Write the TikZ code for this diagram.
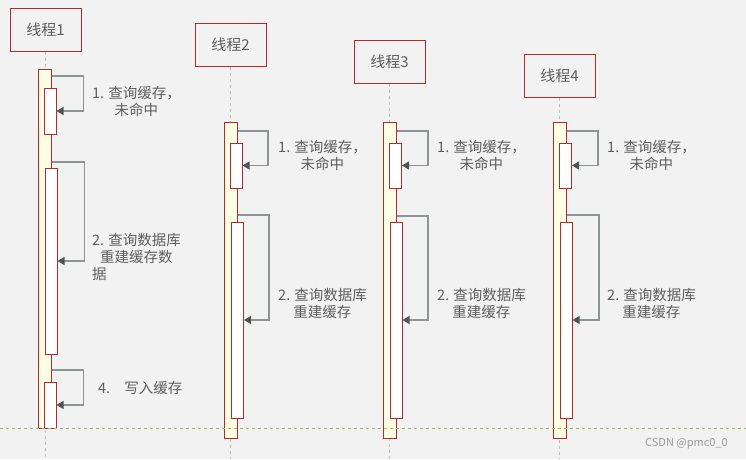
\documentclass[tikz,border=0pt]{standalone}
\usepackage{fontspec}
\setmainfont{Noto Sans CJK SC}
\usetikzlibrary{arrows.meta}

\definecolor{bg}{HTML}{F2F2F2}
\definecolor{boxred}{HTML}{B8292B}
\definecolor{baryellow}{HTML}{FFFFE6}
\definecolor{txt}{HTML}{5E5E5E}
\definecolor{lifegray}{HTML}{BDBDBD}
\definecolor{callgray}{HTML}{8E9393}
\definecolor{headgray}{HTML}{4E5456}
\definecolor{splitgreen}{HTML}{9BBB59}

\begin{document}
\begin{tikzpicture}[x=1pt,y=-1pt]
  \tikzstyle{thread} = [draw=boxred, fill=bg, line width=1pt, minimum width=71pt, minimum height=43pt, inner sep=0pt, text=txt, font=\fontsize{15}{18}\selectfont]
  \tikzstyle{life} = [draw=lifegray, dashed, line width=0.8pt]
  \tikzstyle{bar} = [draw=boxred, fill=baryellow, line width=1pt, minimum width=13pt, inner sep=0pt]
  \tikzstyle{act} = [draw=boxred, fill=white, line width=1pt, minimum width=12pt, inner sep=0pt]
  \tikzstyle{call} = [draw=callgray, line width=1.3pt, -{Triangle[length=7pt,width=8pt,color=headgray]}]
  \tikzstyle{note} = [anchor=west, inner sep=0pt, align=center, text=txt, font=\fontsize{14.5}{17}\selectfont]

  \fill[bg] (0,0) rectangle (746,459);
  \useasboundingbox (0,0) rectangle (746,459);

  \node[thread] (h1) at (45.5,29.5) {线程1};
  \node[thread] (h2) at (230.5,44.5) {线程2};
  \node[thread] (h3) at (389.5,61.5) {线程3};
  \node[thread] (h4) at (559.5,75.5) {线程4};

  \draw[life] (h1.south) -- (h1.south |- 0,459);
  \draw[life] (h2.south) -- (h2.south |- 0,459);
  \draw[life] (h3.south) -- (h3.south |- 0,459);
  \draw[life] (h4.south) -- (h4.south |- 0,459);

  % thread 1
  \node[bar, minimum height=359pt] (o1) at (44.5,248.5) {};
  \node[act, minimum height=46pt] (a11) at (50,111) {};
  \node[act, minimum height=186pt] (a12) at (51,261) {};
  \node[act, minimum height=46pt] (a13) at (50,405) {};

  % thread 2
  \node[bar, minimum height=316pt] (o2) at (231,280) {};
  \node[act, minimum height=45pt] (a21) at (236,165.5) {};
  \node[act, minimum height=196pt] (a22) at (237.5,320) {};

  % thread 3
  \node[bar, minimum height=316pt] (o3) at (390,280) {};
  \node[act, minimum height=45pt] (a31) at (395.5,165.5) {};
  \node[act, minimum height=196pt] (a32) at (396,320) {};

  % thread 4
  \node[bar, minimum height=316pt] (o4) at (560,280) {};
  \node[act, minimum height=45pt] (a41) at (565.5,165.5) {};
  \node[act, minimum height=196pt] (a42) at (566,320) {};

  \draw[call] (o1.east |- 0,76) -- ++(32,0) |- (a11.east);
  \draw[call] (o1.east |- 0,162) -- ++(33,0) |- (a12.east);
  \draw[call] (o1.east |- 0,370) -- ++(32,0) |- (a13.east);
  \draw[call] (o2.east |- 0,131) -- ++(30,0) |- (a21.east);
  \draw[call] (o2.east |- 0,215) -- ++(31,0) |- (a22.east);
  \draw[call] (o3.east |- 0,131) -- ++(31,0) |- (a31.east);
  \draw[call] (o3.east |- 0,216) -- ++(31,0) |- (a32.east);
  \draw[call] (o4.east |- 0,131) -- ++(31,0) |- (a41.east);
  \draw[call] (o4.east |- 0,215) -- ++(32,0) |- (a42.east);

  \node[note] (n11) at (92,101.5) {1.\hspace{4pt}查询缓存，\\未命中};
  \node[note, align=left] (n12) at (92,257) {2.\hspace{4pt}查询数据库\\\hspace{8pt}重建缓存数\\据};
  \node[note] (n13) at (98,388) {4.\hspace{14pt}写入缓存};
  \node[note] (n21) at (278,155.5) {1.\hspace{4pt}查询缓存，\\未命中};
  \node[note] (n22) at (278,303.5) {2.\hspace{4pt}查询数据库\\重建缓存};
  \node[note] (n31) at (437,155.5) {1.\hspace{4pt}查询缓存，\\未命中};
  \node[note] (n32) at (437,303.5) {2.\hspace{4pt}查询数据库\\重建缓存};
  \node[note] (n41) at (607,155.5) {1.\hspace{4pt}查询缓存，\\未命中};
  \node[note] (n42) at (607,303.5) {2.\hspace{4pt}查询数据库\\重建缓存};

  \draw[splitgreen, dashed, line width=0.8pt] (0,428) -- (746,428);

  \node[anchor=west, inner sep=0pt, text=gray!80, font=\fontsize{11}{13}\selectfont] (mark) at (645,444) {CSDN @pmc0\_0};
\end{tikzpicture}
\end{document}
